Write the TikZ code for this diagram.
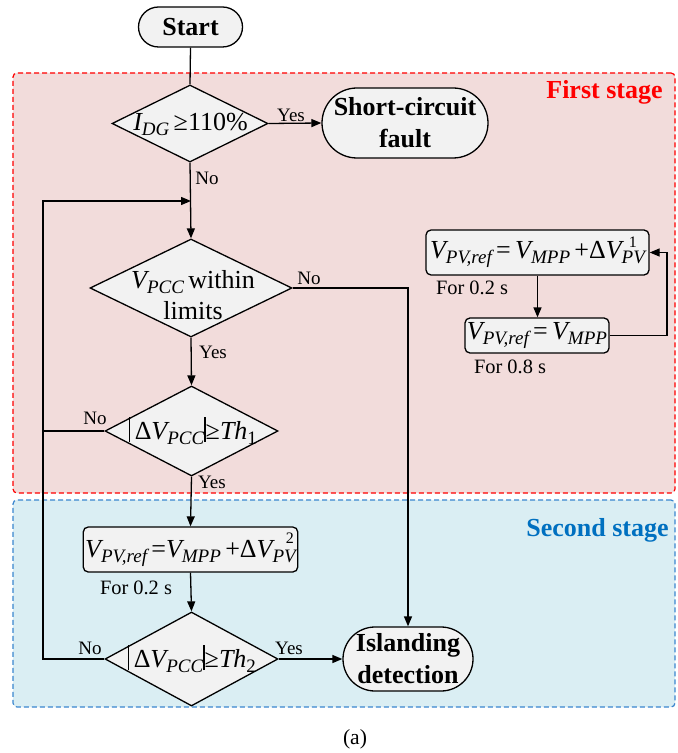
\documentclass[tikz,border=0pt]{standalone}
\usepackage{fontspec}
\setmainfont{Liberation Serif}
\usetikzlibrary{shapes.geometric,arrows.meta}
\definecolor{pinkbg}{HTML}{F2DCDB}
\definecolor{bluebg}{HTML}{DAEEF3}
\definecolor{bluedash}{HTML}{3A86CF}
\definecolor{bluetxt}{HTML}{0070C0}
\definecolor{nodefill}{HTML}{F2F2F2}
\newcommand{\iv}[1]{{\itshape #1}}
\newcommand{\sbx}[1]{\raisebox{-2.5pt}{\fontsize{9.5}{10}\selectfont\itshape #1}}
\newcommand{\sbr}[1]{\raisebox{-2.5pt}{\fontsize{9.5}{10}\selectfont #1}}
\newcommand{\bbar}{\rule[-1.2pt]{0.7pt}{12.5pt}}
\begin{document}
\begin{tikzpicture}[x=0.5pt,y=-0.5pt,
  region/.style={rectangle,dashed,dash pattern=on 2.5pt off 1.5pt,rounded corners=2pt,line width=0.6pt,inner sep=0pt},
  term/.style={rectangle,draw,fill=nodefill,line width=0.65pt,inner sep=0pt,align=center,font=\fontsize{13}{16}\selectfont\bfseries},
  dia/.style={diamond,draw,fill=nodefill,line width=0.65pt,inner sep=0pt},
  dtext/.style={inner sep=0pt,align=center,font=\fontsize{13}{15.5}\selectfont},
  procbox/.style={rectangle,draw,fill=nodefill,line width=0.65pt,rounded corners=2.5pt,inner sep=1pt,font=\fontsize{13}{15}\selectfont},
  lbl/.style={inner sep=0pt,font=\fontsize{9.5}{11}\selectfont},
  note/.style={inner sep=0pt,font=\fontsize{10.2}{12}\selectfont},
  ln/.style={line width=0.65pt},
  arr/.style={line width=0.65pt,-{Triangle[length=5pt,width=4pt]}}
]
\useasboundingbox (0,0) rectangle (677,753);
\fill[white] (0,0) rectangle (677,753);

% stage regions
\node[region,fill=pinkbg,draw=red,minimum width=331pt,minimum height=210pt] (stage1) at (344,283) {};
\node[region,fill=bluebg,draw=bluedash,minimum width=331pt,minimum height=103.5pt] (stage2) at (344,603.5) {};
\node[inner sep=0pt,anchor=east,text=red,font=\fontsize{13}{15}\selectfont\bfseries] (s1lbl) at (663,92) {First stage};
\node[inner sep=0pt,anchor=east,text=bluetxt,font=\fontsize{13}{15}\selectfont\bfseries] (s2lbl) at (669,530) {Second stage};

% main nodes
\node[term,minimum width=52pt,minimum height=20pt,rounded corners=10pt] (start) at (190.5,27) {Start};
\node[dia,minimum width=78pt,minimum height=38.5pt] (d1) at (190,123.5) {};
\node[dtext] (t1) at (190.5,124) {\iv{I}\sbx{DG}\,≥110\%};
\node[term,minimum width=83pt,minimum height=35pt,rounded corners=17.5pt] (sc) at (405,123) {Short-circuit\\fault};
\node[dia,minimum width=101pt,minimum height=49pt] (d2) at (191,288) {};
\node[dtext] (t2) at (193,295) {\iv{V}\sbx{PCC}\,within\\limits};
\node[dia,minimum width=86.5pt,minimum height=45pt] (d3) at (191.5,431) {};
\node[dtext] (t3) at (193,431) {\bbar\,Δ\iv{V}\sbx{PCC}\bbar≥\iv{Th}\sbr{1}};
\node[procbox,minimum width=106.5pt,minimum height=22.5pt] (b2) at (190.5,549.5)
  {\iv{V}\sbx{PV,ref}\,=\iv{V}\sbx{MPP}\,+Δ\iv{V}\sbx{PV}\llap{\raisebox{7pt}{\fontsize{8}{9}\selectfont 2}\hspace{1pt}}};
\node[dia,minimum width=86.5pt,minimum height=47pt] (d4) at (191.5,659) {};
\node[dtext] (t4) at (192,659) {\bbar\,Δ\iv{V}\sbx{PCC}\bbar≥\iv{Th}\sbr{2}};
\node[term,minimum width=65pt,minimum height=32pt,rounded corners=16pt] (island) at (408,659) {Islanding\\detection};

% right loop boxes
\node[procbox,minimum width=111.5pt,minimum height=22.5pt] (bx1) at (537.5,252.5)
  {\iv{V}\sbx{PV,ref}\,=\,\iv{V}\sbx{MPP}\,+Δ\iv{V}\sbx{PV}\llap{\raisebox{5.5pt}{\fontsize{8}{9}\selectfont 1}\hspace{4pt}}};
\node[procbox,minimum width=72pt,minimum height=17.5pt] (bx2) at (537,335.5)
  {\iv{V}\sbx{PV,ref}\,=\,\iv{V}\sbx{MPP}};

% notes
\node[note] (n1) at (472,288) {For 0.2 s};
\node[note] (n2) at (510,367) {For 0.8 s};
\node[note] (n3) at (136,588) {For 0.2 s};
\node[inner sep=0pt,font=\fontsize{10.8}{12}\selectfont] (cap) at (355,739) {(a)};

% helper coordinates
\coordinate (j) at (191,201);
\coordinate (lb) at (43,659);
\coordinate (rc) at (667,335.5);

% connectors
\draw[ln] (start.south) -- (d1.north);
\draw[arr] (d1.east) -- (sc.west);
\draw[arr] (d1.south) -- (d2.north);
\draw[arr] (d2.south) -- (d3.north);
\draw[arr] (d3.south) -- (b2.north);
\draw[arr] (b2.south) -- (d4.north);
\draw[arr] (d4.east) -- (island.west);
\draw[arr] (d2.east) -| (island.north);
\draw[arr] (d4.west) -- (lb) |- (j);
\draw[ln] (d3.west) -- (d3.west -| lb);
\draw[arr] (bx1.south) -- (bx1.south |- bx2.north);
\draw[arr] (bx2.east) -- (rc) |- (bx1.east);

% branch labels
\node[lbl] (y1) at (291,115) {Yes};
\node[lbl] (no1) at (207,178) {No};
\node[lbl] (no2) at (309,278) {No};
\node[lbl] (y2) at (213,352) {Yes};
\node[lbl] (no3) at (95,418) {No};
\node[lbl] (y3) at (212,482) {Yes};
\node[lbl] (no4) at (90,648) {No};
\node[lbl] (y4) at (289,648) {Yes};
\end{tikzpicture}
\end{document}
